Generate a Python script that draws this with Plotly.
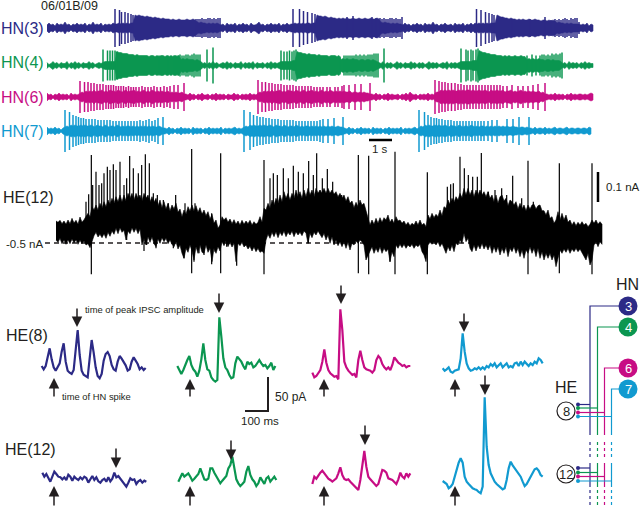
import plotly.graph_objects as go

NAVY = "#2c2a86"
GREEN = "#0b9650"
MAGENTA = "#c70d84"
CYAN = "#119ad0"
INK = "#231f20"
FONT = "Liberation Sans"

# ---- extracellular HN recordings
# envelope half heights, one value every 2 px, each run starting at *_env_start
hn3_env_start = [47,115,221,293,403,477,581]
hn3_env_h = [
    [3,5,3,4,2,5,3,4,3,6,3,4,2,4,3,5,3,4,3,5,2,4,3,6,3,4,3,5,2,4,3,4,3,5],
    [4,4,5,4,5,4,5,4,5,5,13,12,13,12,12,11,12,11,11,10,11,10,10,9,10,9,9,9,8,9,8,8,9,8,8,8,9,8,8,9,8,6,5,6,5,5,4,5,4,5,4,5,4],
    [3,4,2,5,3,4,3,5,2,4,3,5,3,4,2,5,3,3,4,6,3,4,2,4,3,5,3,4,3,5,2,4,3,5,3,4],
    [4,5,4,5,4,5,4,5,5,4,5,5,13,12,12,11,12,11,10,11,10,10,9,10,9,10,9,10,9,9,10,9,9,10,9,9,10,9,9,10,9,9,10,9,6,5,6,5,5,4,5,4,5,4,4],
    [3,5,3,4,2,4,3,5,3,4,2,5,3,4,3,6,3,4,2,4,3,5,3,3,4,2,5,3,4,3,5,2,4,3,5,3,5],
    [4,5,4,5,4,5,4,5,5,5,13,12,11,11,10,10,9,10,9,9,8,9,8,9,8,8,9,8,8,9,8,8,7,8,8,7,8,7,8,7,5,6,5,5,4,5,4,5,4,4,4,4],
    [3,4,3,5,2,4,3],
]
hn3_spike_t = [115,119.5,121.5,125,128,131,133,196,198,200,202,204,206,208,210,212,214,216,218,220,293,299.5,303.5,307.5,312,315,353,372,376,380,382,384,386,388,390,392,394,396,398,400,402,347,476.5,481,485.5,489,492,494,512,530,545,551,555,557,559,561,563,565,567,569,571,573,575,577,579]
hn3_spike_a = [19,18,16,16,15,14,13,9,9,9,10,9,9,10,10,9,10,9,10,10,19,19,17,16,15,14,12,11,10,10,9,10,9,9,10,10,9,10,9,9,11,11,19,18,16,15,14,13,9,9,11,8,9,8,9,8,9,10,9,8,10,9,10,10,6]

hn4_env_start = [47,103,203,281,379,461,563]
hn4_env_h = [
    [3,1,2,4,2,3,1,3,2,2,4,1,3,2,4,2,3,1,3,2,2,4,2,3,1,2,3,2],
    [3,4,4,4,4,4,4,14,13,13,12,12,12,11,11,11,10,11,10,10,10,10,10,9,10,10,9,10,9,10,10,9,10,9,10,9,10,9,10,6,7,6,7,6,6,6,5,6,5,4],
    [2,3,1,3,2,4,2,3,1,2,3,2,4,2,3,1,3,2,2,4,1,3,2,3,2,4,1,3,2,2,3,1,3,2,4,2,3,2,3],
    [4,4,4,4,4,4,5,5,14,13,13,12,12,11,12,11,11,11,10,11,10,10,10,10,9,10,10,10,9,10,6,7,6,7,6,6,7,6,6,5,6,6,5,6,6,5,6,5,4],
    [3,2,4,1,3,2,3,1,2,4,2,3,1,3,2,2,4,2,3,1,3,2,3,1,2,4,2,3,2,3,1,2,3,2,4,1,3,2,3,2,3],
    [4,4,4,4,4,4,5,5,5,15,14,13,13,12,12,11,11,11,10,10,10,9,10,9,10,9,9,10,9,9,10,9,9,6,7,6,7,6,6,7,6,6,5,6,6,5,6,5,5,5,4],
    [2,3,1,4,2,3,2,3,1,3,2,4,2,3,2,2],
]
hn4_spike_t = [103,107.5,110,112.5,115,116.5,159,168,174,176,178,180,182,184,186,188,190,192,194,196,198,200,207,213,281,284,287,289.5,292,294,296,340,344,346,348,350,352,354,356,358,360,362,364,366,368,370,372,374,376,378,384,461,466,468,471,473,476,478,527,532,536,540,542,544,546,548,550,552,554,556,558,560,562]
hn4_spike_a = [16,15,15,15,15,14,10,10,10,10,10,11,10,10,11,11,10,11,12,11,11,11,16,18,15,14,14,15,14,15,16,9,10,10,10,10,10,10,11,10,11,10,11,10,11,11,11,12,12,12,17,17,16,15,16,15,16,17,10,11,10,10,11,11,10,11,10,12,11,12,11,12,13]

hn6_env_start = [47,80,186,258,372,435,547]
hn6_env_h = [
    [4,2,3,1,3,2,4,2,3,2,3,1,4,2,3,2,3],
    [4,5,4,6,5,6,5,7,5,6,6,7,5,6,5,7,6,6,5,7,6,5,6,7,5,6,6,7,5,6,5,6,7,5,6,5,7,6,5,6,5,6,5,5,6,4,5,4,5,4,4,5,3],
    [3,2,4,2,3,1,3,2,4,2,2,3,1,3,2,4,2,3,2,3,1,3,2,2,4,2,3,1,3,2,3,2,4,2,3,2],
    [4,5,4,6,5,6,5,7,5,6,6,7,5,6,5,7,6,6,5,7,6,5,6,7,5,6,6,7,5,6,5,6,7,5,6,5,7,6,5,6,5,6,5,6,5,5,6,4,5,5,4,5,4,5,4,4,3],
    [3,2,4,2,3,1,3,2,4,2,3,2,2,3,1,3,2,4,2,5,3,2,3,1,3,2,3,2,4,2,3,2],
    [4,5,5,7,6,7,6,7,6,7,6,6,7,6,7,6,7,7,6,7,6,6,7,6,6,7,6,5,7,6,6,7,6,6,7,5,6,6,7,5,6,5,6,7,5,6,5,6,5,6,5,5,6,4,5,3],
    [3,2,3,2,4,2,3,2,3,1,3,2,4,2,3,2,3,3,2,3,2,3,4,3],
]
hn6_spike_t = [80,84.5,88,91,94,97,100,103,106,108.5,111,113.5,116,118.5,121,123.5,126,128.5,131,133.5,136,139,142,145,148,151,154,157,160.5,164,167,170,174,178,184,258,262,265.5,269,272,275,278,281,284,287,290,293,296,299,302,305,308,311,314,317,320,323,327,330,335,338,342,344,349,355,361,370,435,439,442,445,448,451.5,455,458,461,464,467,470,473,476,479,482,485,488,491,494,497,500,503,507,512,518,523,528,533,538,545]
hn6_spike_a = [16,15,15,14,14,13,13,13,12,12,12,12,11,11,11,11,10,11,10,10,10,10,11,10,10,10,11,10,10,11,10,11,12,12,14,17,15,15,14,14,13,13,13,12,12,12,12,11,11,11,11,11,11,10,10,10,10,10,10,10,10,11,12,12,13,13,14,17,16,15,15,14,14,14,13,13,12,12,12,12,12,12,12,12,12,12,12,12,12,11,11,12,11,11,11,12,13,14]

hn7_env_start = [47,65,165,244,345,419,531]
hn7_env_h = [
    [4,2,3,2,4,2,3,1,3],
    [4,5,4,6,5,6,5,5,6,5,6,5,5,6,5,4,6,5,5,4,6,5,4,5,5,4,6,5,4,5,4,5,5,4,5,4,5,4,5,4,5,4,5,4,5,4,4,5,4,3],
    [3,2,4,2,3,1,3,2,4,2,3,2,3,1,4,2,3,2,3,1,3,2,4,2,3,2,3,2,4,1,3,2,3,2,3,4,2,3,2],
    [4,5,4,6,5,6,5,5,6,5,6,5,5,6,5,4,6,5,5,4,6,5,4,5,5,4,6,5,4,5,4,5,5,4,5,4,5,4,5,4,5,4,5,4,5,4,4,5,4,4,3],
    [3,2,4,2,3,1,3,2,4,2,3,2,3,1,4,2,3,2,3,1,3,2,4,2,3,2,3,2,4,1,3,2,3,2,3,4,2],
    [4,5,4,6,5,6,5,5,6,5,6,5,5,6,5,4,6,5,5,4,6,5,4,5,5,4,6,5,4,5,4,5,5,4,5,4,5,4,5,4,5,4,5,4,5,4,4,5,4,4,3,4,4,3,4,3],
    [3,2,4,2,3,3,2,4,2,3,2,3,4,2,3,3,2,3,4,2,3,3,2,3,3,2,3,3,2,4,3],
]
hn7_spike_t = [65,69.5,73,76,78.5,81,83.5,86,89,92,95,98,101,104,107,110,113,116,119,122,125,128,131,134,137,140,143,146,149,152,155,158,163,244,250,253.5,257,260,263,266,269,272,275,278,281,284,287,290,293,296,299,302,305,308,311,314,317,320,323,328,334,343,419,424.5,428,431,434,436.5,439,442,445,448,451,454,457,460,463,466,469,472,475,478,481,484,488,492,497,507,513,519,529]
hn7_spike_a = [21,19,16,15,14,13,13,12,12,12,12,11,11,11,11,11,10,10,10,10,10,10,10,10,10,11,10,11,12,10,11,13,14,21,19,16,15,14,14,13,13,12,12,12,11,11,11,11,11,10,10,10,10,10,10,10,10,11,12,12,13,14,21,19,16,14,13,13,12,12,11,11,11,10,10,10,10,10,10,10,10,10,10,10,10,11,11,12,12,14,14]

hn_labels = ["HN(3)", "HN(4)", "HN(6)", "HN(7)"]

# ---- HE(12) voltage clamp current, two halves, upper and lower edge sampled
# every 2 px (values in 1/3 px), thin IPSC peaks and spike artifacts on top
he_a_top = [228,232,226,236,228,238,225,236,220,234,226,238,216,232,224,215,205,215,185,195,180,195,175,190,170,185,165,178,160,175,155,170,150,170,150,168,145,160,145,165,145,160,150,168,145,160,150,170,155,172,160,182,165,188,170,192,175,198,180,192,175,202,192,215,195,208,185,198,180,198,182,202,188,208,195,212,200,222,208,235,225,250,240,215,225,218,232,222,236,224,238,228,240,226,238,228,236,226,240,230,238,232,215,232,190,195,175,190,165,180,160,175,150,170,140,160,145,165,145,160,135,155,140,160,135,155,130,150,135,155,130,145,135]
he_a_bot = [285,292,280,296,285,298,284,296,282,294,284,298,286,296,288,300,296,308,290,272,262,276,268,278,266,280,262,274,258,268,250,266,248,262,256,285,258,266,248,262,250,266,252,300,280,300,275,292,276,296,305,282,295,278,290,280,296,285,298,305,290,312,300,325,340,310,322,300,318,345,305,325,300,322,325,300,322,310,350,310,325,305,318,290,302,288,305,292,306,295,350,295,302,292,306,300,312,304,318,306,320,310,322,318,325,285,268,280,262,275,260,278,262,272,258,275,262,270,258,275,260,270,262,272,258,265,295,265,278,262,270,258,268]
he_a_up_t = [258,266,274,278,288,297,305,312,322,330,340,348,360,372,380,389,400,415,425,436,448,460,472,490,505,527,555,575,585,605,635,662,792,810,820,832,850,865,880,895,910,926,940,950]
he_a_up_y = [170,148,30,120,80,120,115,85,65,75,58,75,50,120,100,33,70,85,60,28,55,145,150,165,175,150,175,12,175,205,205,25,45,100,85,90,70,100,62,80,85,48,90,25]
he_a_dn_t = [274,380,432,440,468,520,552,575,582,597,612,635,645,662,680,710,792,925]
he_a_dn_y = [388,285,318,300,310,310,340,385,350,325,330,358,320,385,305,362,388,295]

he_b_top = [135,145,130,145,130,145,135,148,140,155,145,160,150,168,155,175,168,188,172,185,165,180,175,197,215,240,225,238,220,235,218,232,218,225,210,232,222,235,215,228,225,235,228,240,232,242,235,240,228,240,225,240,235,245,210,222,205,218,208,215,195,212,185,190,165,178,160,172,155,165,145,158,130,150,130,150,135,155,135,150,135,150,140,155,140,160,150,170,150,175,155,150,168,160,182,165,170,180,170,192,175,192,180,197,180,192,180,178,192,182,180,197,197,210,195,220,215,235,225,200,225,205,225,210,232,225,240,230,242,232,240,230,240,235,245,238,225,235,225,238,230,238]
he_b_bot = [268,278,265,285,270,295,275,300,285,302,290,305,290,310,292,315,295,300,288,295,285,290,300,345,330,320,305,325,310,322,305,325,310,320,312,350,320,335,300,310,298,308,298,310,300,306,298,310,300,305,298,320,330,350,300,292,298,290,300,290,305,295,310,325,305,318,300,320,295,300,285,295,265,290,280,310,320,300,318,300,312,295,312,300,315,300,325,305,322,305,330,310,325,305,335,310,320,305,325,310,335,315,340,315,325,305,325,310,335,310,340,320,345,325,340,325,345,330,365,340,315,325,312,322,310,325,312,320,310,320,312,325,335,345,325,360,345,300,290,305,290,298]
he_b_up_t = [7,22,38,65,115,146,225,322,382,392,400,420,433,445,458,472,484,505,525,545,560,578,605,624,640,718,816]
he_b_up_y = [100,72,110,150,30,32,20,82,125,118,115,35,70,90,95,95,24,140,135,130,150,92,160,47,170,55,55]
he_b_dn_t = [115,146,210,225,322,624,718,816]
he_b_dn_y = [385,388,350,388,388,388,385,388]

# ---- averaged IPSCs, one value every 2 px, in 1/3 px inside each crop
he8_blue_i = [258,268,258,226,205,238,262,272,262,250,215,190,245,272,278,282,270,215,150,225,272,284,288,292,235,180,218,262,288,295,282,242,222,216,228,255,268,272,245,228,236,246,256,272,268,245,232,242,252,268,262,270,264]
he8_green_i = [258,270,282,270,252,240,228,255,268,275,290,272,238,190,240,268,272,292,300,305,300,112,170,235,262,270,285,295,292,250,230,236,245,258,268,245,252,248,262,258,250,240,250,258,255,265,258,248,270,258]
he8_mag_i = [278,292,288,280,270,245,208,248,270,280,285,290,288,298,88,150,245,262,272,278,285,282,292,240,212,240,262,268,270,272,278,270,240,228,235,252,262,268,262,270,255,232,240,248,252,258,255,262,258,258]
he8_cyan_i = [265,272,268,262,275,278,272,270,268,235,160,215,250,265,272,270,265,268,262,268,262,268,258,262,252,258,250,262,255,250,262,255,250,262,258,262,250,248,258,245,255,245,252,258,250,255,245,250,235,240,250]
he12_blue_i = [578,590,582,595,605,590,575,582,590,592,598,592,600,584,590,602,590,596,600,592,598,590,594,608,598,588,600,592,604,608,600,596,605,592,604,596,578,592,588,596,604,612,620,608,595,600,598,612,604,600,608,602,605]
he12_green_i = [605,592,580,590,584,580,590,602,596,590,582,565,585,598,600,596,565,565,578,590,602,610,602,595,588,565,555,530,570,598,610,618,612,605,575,558,585,598,605,618,610,592,602,612,595,590,605,598,590,600]
he12_mag_i = [612,590,596,586,578,572,580,590,596,600,605,600,595,580,562,585,597,600,598,605,612,618,625,630,600,555,513,560,590,598,605,612,618,612,590,570,572,578,595,598,600,606,612,598,578,590,595,580,590,580]
he12_cyan_i = [603,608,612,625,620,612,590,570,548,535,548,590,605,612,620,625,628,630,636,640,620,352,500,555,580,595,605,612,618,622,628,625,600,565,545,556,565,570,582,590,605,618,612,600,590,575,568,565,572,585,590]

# x, y tip, y tail in px
peak_arrows = [(77,327,307),(219,313,292),(341,304,284),(464,332,312),(116,468,447),(231,460,439),(365,445,424),(485,395,374)]
spike_arrows = [(54,378,398),(190,379,398),(324,379,398),(455,379,398),(54,486,507),(190,486,507),(324,486,507),(455,486,507)]

# circuit diagram
hn_ids = ["3", "4", "6", "7"]
hn_node_y = [306, 327, 368, 389]
hn_wire_x = [590, 597.5, 604.5, 611.5]
he_ids = ["8", "12"]
he_node_y = [411, 474]
he8_wire_y = [404.5, 408, 412.5, 416.5]
he12_wire_y = [468, 472.5, 476.5, 481]

colors = [NAVY, GREEN, MAGENTA, CYAN]
U = 1 / 3
STEP = 6  # sampling of the 1/3 px lists

fig = go.Figure()


def add_line(x, y, color, width=1.0, dash=None):
    fig.add_trace(go.Scatter(x=x, y=y, mode="lines", hoverinfo="skip",
                             line=dict(color=color, width=width, dash=dash)))


def add_band(x, y, color):
    fig.add_trace(go.Scatter(x=x, y=y, mode="lines", fill="toself", fillcolor=color,
                             hoverinfo="skip", line=dict(color=color, width=0.6)))


def add_sticks(x, y0, y1, color, width=1.0):
    xs, ys = [], []
    for a, b, c in zip(x, y0, y1):
        xs += [a, a, None]
        ys += [b, c, None]
    add_line(xs, ys, color, width)


# HN traces
hn_center = [28, 65.5, 97, 131]
hn_data = [(hn3_env_start, hn3_env_h, hn3_spike_t, hn3_spike_a),
           (hn4_env_start, hn4_env_h, hn4_spike_t, hn4_spike_a),
           (hn6_env_start, hn6_env_h, hn6_spike_t, hn6_spike_a),
           (hn7_env_start, hn7_env_h, hn7_spike_t, hn7_spike_a)]
for (starts, runs, st, sa), c, col in zip(hn_data, hn_center, colors):
    t, h = [], []
    for s, run in zip(starts, runs):
        t += [s + 2 * k for k in range(len(run))]
        h += run
    add_band(t + t[::-1], [c - v for v in h] + [c + v for v in h[::-1]], col)
    add_sticks(st, [c - a for a in sa], [c + a for a in sa], col, 1.5)

# HE(12) long trace with dashed holding level under it
add_line([45, 600], [243, 243], INK, 1.3, "5px,4px")
for x0, start, top, bot, up_t, up_y, dn_t, dn_y in [
    (0, 168, he_a_top, he_a_bot, he_a_up_t, he_a_up_y, he_a_dn_t, he_a_dn_y),
    (320, 0, he_b_top, he_b_bot, he_b_up_t, he_b_up_y, he_b_dn_t, he_b_dn_y),
]:
    top_x = [x0 + (start + STEP * k) * U for k in range(len(top))]
    bot_x = [x0 + (start + STEP * k) * U for k in range(len(bot))]
    add_band(top_x + bot_x[::-1], [145 + v * U for v in top + bot[::-1]], "black")
    add_sticks([x0 + v * U for v in up_t], [145 + v * U for v in up_y], [225] * len(up_t), "black", 1.2)
    add_sticks([x0 + v * U for v in dn_t], [145 + v * U for v in dn_y], [225] * len(dn_t), "black", 1.2)

# averaged traces
for x0, start, i, col in [
    (0, 125, he8_blue_i, NAVY), (0, 532, he8_green_i, GREEN),
    (280, 97, he8_mag_i, MAGENTA), (280, 488, he8_cyan_i, CYAN),
    (0, 127, he12_blue_i, NAVY), (0, 535, he12_green_i, GREEN),
    (280, 97, he12_mag_i, MAGENTA), (280, 488, he12_cyan_i, CYAN),
]:
    add_line([x0 + (start + STEP * k) * U for k in range(len(i))], [280 + v * U for v in i], col, 2.2)

# scale bars
add_line([369, 392], [140, 140], "black", 2.5)
add_line([598, 598], [172, 202], "black", 2.5)
add_line([245, 268, 268], [411, 411, 377], INK, 2)

# circuit
for wx, ny, wire8, wire12, col in zip(hn_wire_x, hn_node_y, he8_wire_y, he12_wire_y, colors):
    add_line([628, wx, wx], [ny, ny, 435], col, 1.2)
    add_line([wx, wx], [442, 458], col, 1.2, "3px,3px")
    add_line([wx, wx], [463, 487], col, 1.2)
    add_line([wx, wx], [490, 507], col, 1.2, "3px,3px")
    add_line([578, wx], [wire8, wire8], col, 1.2)
    add_line([578, wx], [wire12, wire12], col, 1.2)
    fig.add_trace(go.Scatter(x=[578, 578], y=[wire8, wire12], mode="markers", hoverinfo="skip",
                             marker=dict(color=col, size=4)))
fig.add_trace(go.Scatter(x=[628] * 4, y=hn_node_y, mode="markers", hoverinfo="skip",
                         marker=dict(color=colors, size=19)))
fig.add_trace(go.Scatter(x=[566, 566], y=he_node_y, mode="markers", hoverinfo="skip",
                         marker=dict(color="white", size=18, line=dict(color=INK, width=1.2))))


def label(x, y, text, size=12, color=INK, anchor="left"):
    shift = -2 if anchor == "left" else 0
    fig.add_annotation(x=x, y=y, text=text, showarrow=False, xanchor=anchor, yanchor="middle",
                       xshift=shift, font=dict(family=FONT, size=size, color=color))


for name, y, col in zip(hn_labels, [28, 62, 97, 131], colors):
    label(0.5, y, name, 16, col)
for hid, y in zip(hn_ids, hn_node_y):
    label(628, y, hid, 13, "white", "center")
for hid, y in zip(he_ids, he_node_y):
    label(566, y, hid, 13, INK, "center")
label(41, 6, "06/01B/09", 12.5)
label(380, 149, "1 s", 11.5, INK, "center")
label(3, 197, "HE(12)", 16)
label(6, 244, "-0.5 nA", 11.5)
label(606, 187, "0.1 nA", 11.5)
label(6, 335, "HE(8)", 16)
label(5, 449, "HE(12)", 16)
label(85, 309, "time of peak IPSC amplitude", 9.4)
label(62, 396, "time of HN spike", 9.4)
label(275, 397, "50 pA", 12)
label(241, 421, "100 ms", 11.5)
label(627, 284, "HN", 16, INK, "center")
label(566, 387, "HE", 16, INK, "center")

for x, tip, tail in peak_arrows + spike_arrows:
    fig.add_annotation(x=x, y=tip, ax=x, ay=tail, xref="x", yref="y", axref="x", ayref="y", text="",
                       showarrow=True, arrowhead=2, arrowsize=1.4, arrowwidth=1.5, arrowcolor=INK)

fig.update_layout(width=640, height=507, margin=dict(l=0, r=0, t=0, b=0), showlegend=False,
                  paper_bgcolor="white", plot_bgcolor="white",
                  xaxis=dict(range=[0, 640], visible=False, fixedrange=True),
                  yaxis=dict(range=[507, 0], visible=False, fixedrange=True))

fig.write_html("out.html", config=dict(displayModeBar=False),
               post_script="document.body.style.margin='0';")
